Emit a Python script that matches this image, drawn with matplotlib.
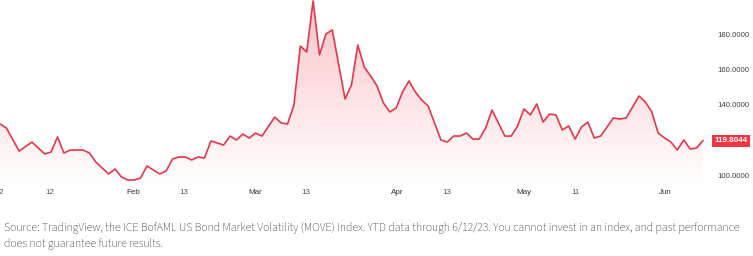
import numpy as np
import matplotlib
matplotlib.use('Agg')
import matplotlib.pyplot as plt
from matplotlib import font_manager as fm
from matplotlib.colors import to_rgb
from matplotlib.patches import Polygon
from matplotlib.transforms import blended_transform_factory

# MOVE index, one value per trading day, Jan 3 -> Jun 12 2023
move = [129.2, 126.9, 120.4, 113.9, 116.5, 119.0, 115.6, 112.3, 113.4, 121.9,
        112.8, 114.5, 114.5, 114.5, 112.8, 107.7, 104.3, 101.0, 103.8, 99.3,
        97.6, 97.6, 98.7, 105.5, 103.2, 101.0, 102.7, 109.4, 110.6, 110.6,
        108.9, 110.6, 110.0, 119.6, 118.5, 117.3, 122.4, 120.2, 123.5, 121.3,
        124.1, 122.4, 127.8, 133.1, 129.8, 129.2, 139.9, 173.2, 169.9, 198.7,
        168.2, 180.0, 182.3, 162.8, 143.3, 151.2, 173.8, 161.4, 156.3, 150.7,
        141.1, 136.0, 138.2, 147.3, 153.5, 147.3, 142.7, 139.4, 129.8, 120.2,
        119.0, 122.4, 122.4, 124.1, 120.7, 120.7, 126.9, 137.1, 129.8, 122.4,
        122.4, 128.1, 137.7, 134.3, 140.5, 130.3, 134.8, 134.3, 125.8, 128.1,
        120.7, 127.5, 130.3, 121.3, 122.4, 127.5, 132.6, 132.0, 132.6, 138.8,
        145.0, 141.6, 136.0, 124.1, 121.3, 119.0, 114.5, 120.2, 115.1, 115.6,
        119.8]
last_label = '119.8044'

# x axis labels (positions in trading-day units)
tick_pos = [0.2, 7.8, 20.8, 28.8, 39.9, 47.9, 62.1, 70.0, 82.0, 90.1, 104.1]
tick_labels = ['2', '12', 'Feb', '13', 'Mar', '13', 'Apr', '13', 'May', '11', 'Jun']
months = {'Feb', 'Mar', 'Apr', 'May', 'Jun'}

price_ticks = [100, 140, 160, 180]

caption1 = ('Source: TradingView, the ICE BofAML US Bond Market Volatility (MOVE) Index. '
            'YTD data through 6/12/23. You cannot invest in an index, and past performance')
caption2 = 'does not guarantee future results.'

line_color = '#E5364B'
badge_color = '#F23645'
ymin, ymax = 94.2, 199.2


def pick_font(cands):
    for c in cands:
        try:
            fm.findfont(fm.FontProperties(family=c), fallback_to_default=False)
            return c
        except ValueError:
            pass
    return 'DejaVu Sans'


cap_font = pick_font(['Source Sans 3', 'Source Sans Pro', 'Fira Sans Condensed',
                      'PT Sans Narrow', 'Liberation Sans Narrow'])

fig = plt.figure(figsize=(7.53, 2.56), dpi=100)
ax = fig.add_axes([0, 1 - 186 / 256, 708 / 753, 186 / 256])

x = np.arange(len(move))
ax.plot(x, move, color=line_color, lw=1.2, zorder=3, solid_joinstyle='round')

# gradient area under the line
grad = np.zeros((256, 1, 4))
grad[..., :3] = to_rgb(badge_color)
grad[..., 3] = np.linspace(0.30, 0.0, 256).reshape(-1, 1)
im = ax.imshow(grad, aspect='auto', origin='upper',
               extent=[x[0], x[-1], ymin, ymax], zorder=1, interpolation='bilinear')
verts = [(x[0], ymin)] + list(zip(x, move)) + [(x[-1], ymin)]
area = Polygon(verts, closed=True, facecolor='none', edgecolor='none',
               transform=ax.transData)
ax.add_patch(area)
im.set_clip_path(area)

ax.set_xlim(0, 110.8)
ax.set_ylim(ymin, ymax)
for s in ax.spines.values():
    s.set_visible(False)

ax.set_xticks(tick_pos, tick_labels)
ax.tick_params(axis='x', length=0, pad=2, labelsize=5.8, labelcolor='#555555')
for lab in ax.get_xticklabels():
    lab.set_family('Liberation Sans')
    if lab.get_text() in months:
        lab.set_color('#333333')

ax.yaxis.tick_right()
ax.set_yticks(price_ticks, ['%.4f' % p for p in price_ticks])
ax.tick_params(axis='y', length=0, pad=7, labelsize=5.6, labelcolor='#444444')
for lab in ax.get_yticklabels():
    lab.set_family('Liberation Sans')

# last price badge
tr = blended_transform_factory(ax.transAxes, ax.transData)
ax.text(731 / 708, move[-1], last_label, transform=tr, ha='center', va='center',
        fontsize=5.8, color='white', fontweight='bold', family='Liberation Sans',
        bbox=dict(boxstyle='square,pad=0.3', fc=badge_color, ec='none'), clip_on=False)

fam = [cap_font, 'DejaVu Sans']
t1 = fig.text(4 / 753, 1 - 228 / 256, caption1, va='center', ha='left',
              fontsize=8, color='#2a2a2a', family=fam, fontweight=600)
t2 = fig.text(4 / 753, 1 - 244 / 256, caption2, va='center', ha='left',
              fontsize=8, color='#2a2a2a', family=fam, fontweight=600)
fig.canvas.draw()
w = t1.get_window_extent().width
size = 8 * 742 / w
t1.set_fontsize(size)
t2.set_fontsize(size)

fig.savefig('out.png', dpi=100, facecolor='white')
